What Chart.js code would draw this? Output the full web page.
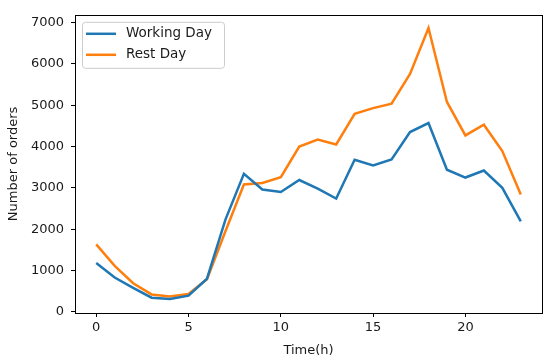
<!DOCTYPE html>
<html lang="en">
  <head>
    <meta charset="UTF-8" />
    <title>Orders by hour</title>
    <script src="https://cdn.jsdelivr.net/npm/chart.js@4.4.1/dist/chart.umd.min.js"></script>
    <style>
      body {
        margin: 0;
        padding: 0;
        background: #fff;
      }
    </style>
  </head>

  <body>
    <canvas id="chart" width="550" height="364"></canvas>

    <script>
      const hours = [
        0, 1, 2, 3, 4, 5, 6, 7, 8, 9, 10, 11, 12, 13, 14, 15, 16, 17, 18, 19,
        20, 21, 22, 23,
      ];
      const workingDay = [
        1180, 830, 580, 340, 310, 390, 800, 2230, 3340, 2960, 2900, 3190, 2980,
        2740, 3680, 3540, 3690, 4350, 4570, 3440, 3250, 3420, 3000, 2190,
      ];
      const restDay = [
        1630, 1110, 690, 420, 370, 430, 790, 1950, 3080, 3120, 3260, 4000, 4170,
        4050, 4790, 4930, 5040, 5760, 6870, 5080, 4270, 4530, 3890, 2840,
      ];
      const xTicks = [0, 5, 10, 15, 20];
      const yTicks = [0, 1000, 2000, 3000, 4000, 5000, 6000, 7000];

      const font = { family: "DejaVu Sans", size: 13 };

      // box around plot + legend drawn in the upper-left like matplotlib
      const framePlugin = {
        id: "frame",
        afterDatasetsDraw(chart) {
          const { ctx, chartArea } = chart;
          ctx.save();
          ctx.strokeStyle = "#000";
          ctx.lineWidth = 1;
          ctx.strokeRect(
            Math.round(chartArea.left) + 0.5,
            Math.round(chartArea.top) + 0.5,
            Math.round(chartArea.right - chartArea.left),
            Math.round(chartArea.bottom - chartArea.top)
          );

          const bx = chartArea.left + 7;
          const by = chartArea.top + 7;
          ctx.font = "13.5px 'DejaVu Sans'";
          let w = 0;
          chart.data.datasets.forEach((d) => {
            w = Math.max(w, ctx.measureText(d.label).width);
          });
          const bw = w + 56;
          const bh = 46;
          ctx.fillStyle = "rgba(255,255,255,0.8)";
          ctx.strokeStyle = "#ccc";
          ctx.beginPath();
          ctx.roundRect(bx + 0.5, by + 0.5, bw, bh, 3);
          ctx.fill();
          ctx.stroke();

          chart.data.datasets.forEach((d, i) => {
            const ly = by + 12 + i * 21;
            ctx.strokeStyle = d.borderColor;
            ctx.lineWidth = 2.5;
            ctx.beginPath();
            ctx.moveTo(bx + 4, ly);
            ctx.lineTo(bx + 34, ly);
            ctx.stroke();
            ctx.fillStyle = "#1a1a1a";
            ctx.textBaseline = "middle";
            ctx.fillText(d.label, bx + 44, ly);
          });
          ctx.restore();
        },
      };

      const ctx = document.getElementById("chart").getContext("2d");

      const myChart = new Chart(ctx, {
        type: "line",
        data: {
          datasets: [
            {
              label: "Working Day",
              data: hours.map((h, i) => ({ x: h, y: workingDay[i] })),
              borderColor: "#1f77b4",
              borderWidth: 2.5,
              pointRadius: 0,
              tension: 0,
            },
            {
              label: "Rest Day",
              data: hours.map((h, i) => ({ x: h, y: restDay[i] })),
              borderColor: "#ff7f0e",
              borderWidth: 2.5,
              pointRadius: 0,
              tension: 0,
            },
          ],
        },
        options: {
          responsive: false,
          animation: false,
          maintainAspectRatio: false,
          layout: {
            padding: { left: 0, right: 8, top: 10, bottom: 0 },
          },
          plugins: {
            legend: { display: false },
            tooltip: { enabled: false },
          },
          scales: {
            x: {
              type: "linear",
              min: -1.15,
              max: 24.15,
              afterBuildTicks: (scale) => {
                scale.ticks = xTicks.map((v) => ({ value: v }));
              },
              afterFit: (scale) => {
                scale.height = 51;
              },
              grid: {
                drawOnChartArea: false,
                drawTicks: true,
                tickLength: 4,
                tickColor: "#000",
              },
              border: { display: false },
              ticks: {
                color: "#1a1a1a",
                font: font,
                padding: 3,
                maxRotation: 0,
                callback: (v) => String(v),
              },
              title: {
                display: true,
                text: "Time(h)",
                color: "#1a1a1a",
                font: font,
                padding: { top: 2, bottom: 6 },
              },
            },
            y: {
              type: "linear",
              min: -30,
              max: 7190,
              afterBuildTicks: (scale) => {
                scale.ticks = yTicks.map((v) => ({ value: v }));
              },
              afterFit: (scale) => {
                scale.width = 75;
              },
              grid: {
                drawOnChartArea: false,
                drawTicks: true,
                tickLength: 4,
                tickColor: "#000",
              },
              border: { display: false },
              ticks: {
                color: "#1a1a1a",
                font: font,
                padding: 7,
                callback: (v) => String(v),
              },
              title: {
                display: true,
                text: "Number of orders",
                color: "#1a1a1a",
                font: font,
                padding: { top: 6, bottom: 0 },
              },
            },
          },
        },
        plugins: [framePlugin],
      });
    </script>
  </body>
</html>
